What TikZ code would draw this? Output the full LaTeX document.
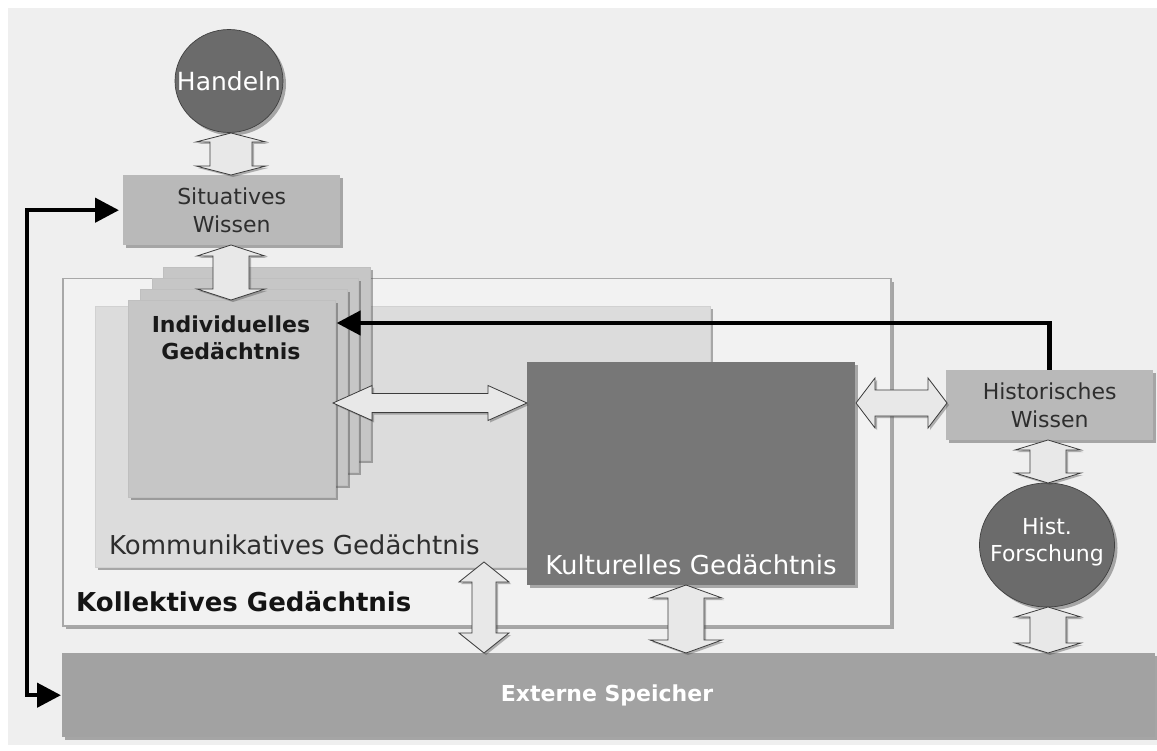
\documentclass[tikz,border=0pt]{standalone}
\usepackage{fontspec}
\setmainfont{DejaVu Sans}
\usetikzlibrary{arrows.meta,shadows,shapes.geometric,calc}
\definecolor{bgc}{HTML}{EFEFEF}
\definecolor{kollfill}{HTML}{F2F2F2}
\definecolor{kollborder}{HTML}{A8A8A8}
\definecolor{kommfill}{HTML}{DCDCDC}
\definecolor{indfill}{HTML}{C6C6C6}
\definecolor{kultfill}{HTML}{777777}
\definecolor{sitfill}{HTML}{B9B9B9}
\definecolor{extfill}{HTML}{A2A2A2}
\definecolor{circfill}{HTML}{6B6B6B}
\definecolor{arrfill}{HTML}{E8E8E8}
\definecolor{arrline}{HTML}{3C3C3C}
\definecolor{txtdark}{HTML}{2E2E2E}
\newcommand\vdarrow[6]{% x, ytop, ybot, head half width, shaft half width, head length
  \filldraw[darrow] (#1,#2) -- (#1+#4,#2+#6) -- (#1+#5,#2+#6) -- (#1+#5,#3-#6) -- (#1+#4,#3-#6) -- (#1,#3)
    -- (#1-#4,#3-#6) -- (#1-#5,#3-#6) -- (#1-#5,#2+#6) -- (#1-#4,#2+#6) -- cycle;}
\newcommand\hdarrow[6]{% y, xleft, xright, head half width, shaft half width, head length
  \filldraw[darrow] (#2,#1) -- (#2+#6,#1-#4) -- (#2+#6,#1-#5) -- (#3-#6,#1-#5) -- (#3-#6,#1-#4) -- (#3,#1)
    -- (#3-#6,#1+#4) -- (#3-#6,#1+#5) -- (#2+#6,#1+#5) -- (#2+#6,#1+#4) -- cycle;}
\begin{document}
\begin{tikzpicture}[x=1pt,y=-1pt,
  shad/.style={drop shadow={shadow xshift=3pt,shadow yshift=-3pt,fill=black!70,opacity=0.45}},
  box/.style={shad, inner sep=0pt, anchor=north west, draw=none},
  layer/.style={box, fill=indfill, draw=black!25, line width=0.6pt},
  circ/.style={ellipse, shad, fill=circfill, draw=black!75, line width=0.7pt, inner sep=0pt},
  darrow/.style={fill=arrfill, draw=arrline, line width=0.8pt,
    drop shadow={shadow xshift=2pt,shadow yshift=-2pt,fill=black!70,opacity=0.4}},
  f22/.style={font=\fontsize{22}{27.5}\selectfont},
  f26/.style={font=\fontsize{26}{31}\selectfont},
  blk/.style={line width=4.5pt, draw=black, -{Triangle[length=24pt,width=24pt]}},
  lbl/.style={inner sep=0pt, align=center}]
\useasboundingbox (0,0) rectangle (1157,751);
\fill[white] (0,0) rectangle (1157,751);
\fill[bgc] (8,8) rectangle (1157,745);

% containers
\node[box, fill=kollfill, draw=kollborder, line width=1.5pt, minimum width=828pt, minimum height=347pt] (koll) at (62,278) {};
\node[box, fill=kommfill, draw=black!18, line width=0.6pt, minimum width=615pt, minimum height=261pt] (komm) at (95,306) {};
\node[lbl, f26, anchor=west, text=txtdark] (kommt) at (109,545) {Kommunikatives Gedächtnis};
\node[lbl, anchor=west, text=black!92, font=\fontsize{26}{31}\selectfont\bfseries] (kollt) at (76,602) {Kollektives Gedächtnis};

% individual memory stack
\node[layer, minimum width=207pt, minimum height=193pt] (ind4) at (163,267) {};
\node[layer, minimum width=206pt, minimum height=194pt] (ind3) at (152,278) {};
\node[layer, minimum width=207pt, minimum height=196pt] (ind2) at (140,289) {};
\node[layer, minimum width=207pt, minimum height=197pt] (ind) at (128,300) {};
\node[lbl, font=\fontsize{22}{27}\selectfont\bfseries, text=black!90] (indt) at (231,338) {Individuelles\\Gedächtnis};

% cultural memory
\node[box, fill=kultfill, minimum width=328pt, minimum height=223pt] (kult) at (527,362) {};
\node[lbl, f26, text=white] (kultt) at (691,565) {Kulturelles Gedächtnis};

% knowledge boxes
\node[box, fill=sitfill, f22, align=center, text=txtdark, minimum width=217pt, minimum height=70pt] (sit) at (123,175) {Situatives\\Wissen};
\node[box, fill=sitfill, f22, align=center, text=txtdark, minimum width=207pt, minimum height=70pt] (hw) at (946,370) {Historisches\\Wissen};

% external storage
\node[box, fill=extfill, minimum width=1093pt, minimum height=84pt] (ext) at (62,653) {};
\node[lbl, font=\fontsize{22}{27}\selectfont\bfseries, text=white] (extt) at (607,695) {Externe Speicher};

% circles
\node[circ, minimum width=108pt, minimum height=103pt] (hand) at (229,81) {};
\node[lbl, text=white, font=\fontsize{25}{30}\selectfont] (handt) at (hand.center) {Handeln};
\node[circ, minimum width=135pt, minimum height=124pt] (hf) at (1047,545) {};
\node[lbl, text=white, f22] (hft) at ($(hf.center)+(0,-3)$) {Hist.\\Forschung};

% block double arrows
\vdarrow{231}{133}{175}{35}{21}{9}
\vdarrow{231}{245}{300}{34}{18}{11}
\vdarrow{1048}{440}{483}{33}{18}{10}
\vdarrow{1048}{607}{653}{33}{18}{10}
\vdarrow{484}{562}{653}{25}{12}{20}
\vdarrow{686}{585}{653}{36}{18}{13}
\hdarrow{403}{333}{527}{17.5}{9.5}{39}
\hdarrow{403}{856}{947}{25}{13}{19}

% black connectors
\coordinate (lft) at (27,450);
\draw[blk, shorten >=1pt] (hw.north) |- ($(ind.north east)+(0,23)$);
\draw[line width=4.5pt, {Triangle[length=24pt,width=24pt]}-{Triangle[length=24pt,width=24pt]}, shorten <=4pt, shorten >=1pt]
  (sit.west) -| (lft) |- (ext.west);
\end{tikzpicture}
\end{document}
